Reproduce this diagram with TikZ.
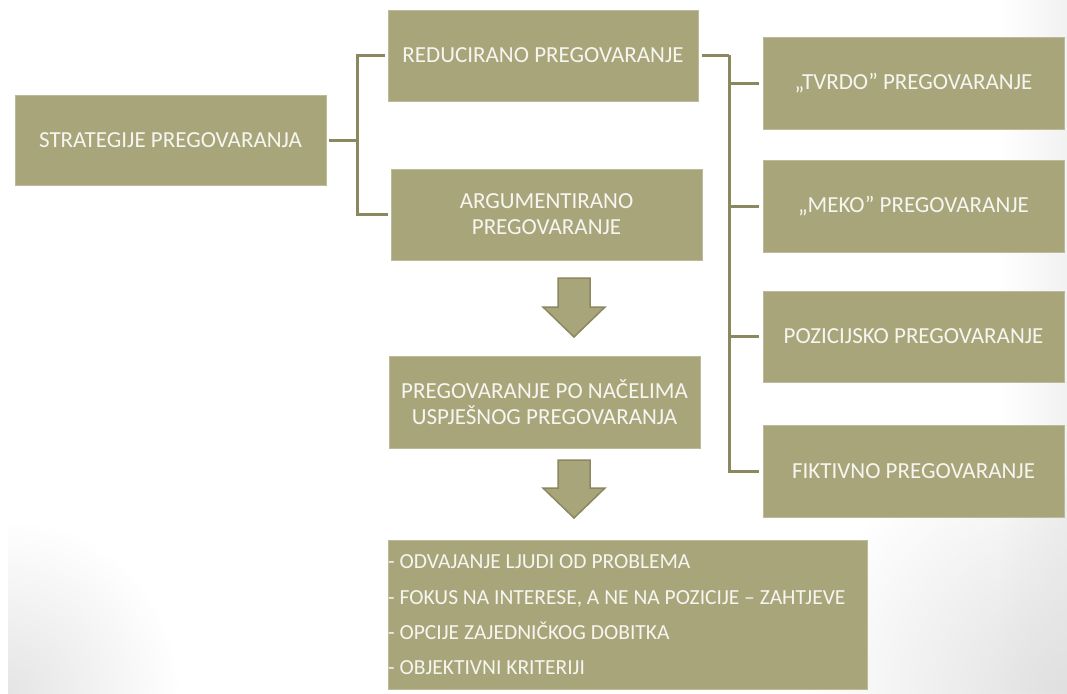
\documentclass[tikz,border=0pt]{standalone}
\usepackage{fontspec}
\usetikzlibrary{fadings}
\setmainfont{Carlito}
\definecolor{boxfill}{HTML}{A9A57B}
\definecolor{boxedge}{HTML}{BDBA98}
\definecolor{linecol}{HTML}{8B875E}
\definecolor{txtcol}{HTML}{F6F6F0}
\tikzfading[name=myfadeout, inner color=transparent!0, outer color=transparent!100]
\begin{document}
\begin{tikzpicture}[x=1pt,y=-1pt,
  box/.style={rectangle, fill=boxfill, draw=boxedge, line width=0.8pt, inner sep=0pt,
    text=txtcol, font=\fontsize{23}{26}\selectfont, align=center},
  conn/.style={draw=linecol, line width=3pt},
  blockarrow/.style={fill=boxfill, draw=linecol, line width=1.5pt, line join=miter}]
\useasboundingbox (0,0) rectangle (1067,693);
\fill[white] (0,0) rectangle (1067,693);
% soft slide shadows
\fill[black!5, path fading=west] (1000,0) rectangle (1067,693);
\begin{scope}
\clip (8,0) rectangle (1067,693);
\fill[black!10, path fading=myfadeout] (8,693) circle (170);
\fill[black!12, path fading=myfadeout] (1067,693) circle (260);
\end{scope}
% nodes
\node[box, minimum width=311, minimum height=90] (strat) at (170.5,140) {STRATEGIJE PREGOVARANJA};
\node[box, minimum width=310, minimum height=91] (red) at (543,55.5) {REDUCIRANO PREGOVARANJE};
\node[box, minimum width=311, minimum height=91] (arg) at (546.5,214.5) {ARGUMENTIRANO\\PREGOVARANJE};
\node[box, minimum width=311, minimum height=92] (nac) at (544.5,402) {PREGOVARANJE PO NAČELIMA\\USPJEŠNOG PREGOVARANJA};
\node[box, minimum width=479, minimum height=149] (list) at (627.5,614.5) {};
\node[anchor=west, inner sep=0pt, text=txtcol, font=\fontsize{21.5}{35.3}\selectfont, align=left] (listtxt) at (388,615)
  {- ODVAJANJE LJUDI OD PROBLEMA\\- FOKUS NA INTERESE, A NE NA POZICIJE – ZAHTJEVE\\- OPCIJE ZAJEDNIČKOG DOBITKA\\- OBJEKTIVNI KRITERIJI};
\node[box, minimum width=301, minimum height=92] (tvrdo) at (913.5,83) {„TVRDO” PREGOVARANJE};
\node[box, minimum width=301, minimum height=92] (meko) at (913.5,206) {„MEKO” PREGOVARANJE};
\node[box, minimum width=301, minimum height=91] (poz) at (913.5,336.5) {POZICIJSKO PREGOVARANJE};
\node[box, minimum width=301, minimum height=92] (fik) at (913.5,471) {FIKTIVNO PREGOVARANJE};
% connectors
\coordinate (lj) at (357,140);
\draw[conn] (strat.east) ++(3,0) -- (lj);
\draw[conn, shorten >=3pt] (lj) |- (red.west);
\draw[conn, shorten >=3pt] (lj) |- (arg.west);
\coordinate (rj) at (729,55.5);
\draw[conn] (red.east) ++(4,0) -- (rj);
\draw[conn, shorten >=4pt] (rj) |- (tvrdo.west);
\draw[conn, shorten >=4pt] (rj) |- (meko.west);
\draw[conn, shorten >=4pt] (rj) |- (poz.west);
\draw[conn, shorten >=4pt] (rj) |- (fik.west);
% block arrows
\draw[blockarrow] (558,278) -- (590,278) -- (590,307) -- (605,307) -- (574,337) -- (543,307) -- (558,307) -- cycle;
\draw[blockarrow] (558,460) -- (590,460) -- (590,488) -- (605,488) -- (574,518) -- (543,488) -- (558,488) -- cycle;
\end{tikzpicture}
\end{document}
